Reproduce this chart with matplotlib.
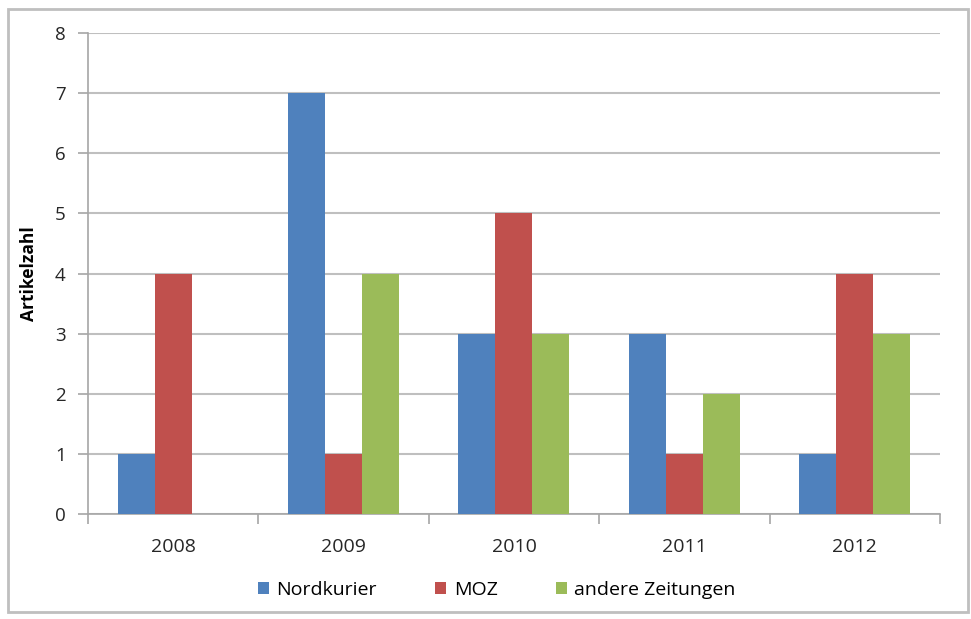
import numpy as np
import matplotlib
matplotlib.use('Agg')
import matplotlib.pyplot as plt
from matplotlib.patches import Rectangle

years = ['2008', '2009', '2010', '2011', '2012']
nordkurier = [1, 7, 3, 3, 1]
moz = [4, 1, 5, 1, 4]
andere = [0, 4, 3, 2, 3]

plt.rcParams['font.family'] = ['Open Sans', 'DejaVu Sans']

fig = plt.figure(figsize=(9.71, 6.19), dpi=100)
ax = fig.add_axes([0.0906, 0.1696, 0.8774, 0.7771])

x = np.arange(len(years))
w = 0.217
ax.bar(x - w, nordkurier, w, color='#4F81BD', label='Nordkurier', zorder=3)
ax.bar(x, moz, w, color='#C0504D', label='MOZ', zorder=3)
ax.bar(x + w, andere, w, color='#9BBB59', label='andere Zeitungen', zorder=3)

ax.set_xlim(-0.5, len(years) - 0.5)
ax.set_ylim(0, 8)
ax.set_yticks(range(0, 9))
ax.yaxis.grid(True, color='#bfbfbf', linewidth=1.5, zorder=0)
ax.set_xticks(x)
ax.set_xticklabels(years, fontsize=14, color='#262626')
ax.tick_params(axis='x', length=0, pad=17)
ax.set_xticks(np.arange(-0.5, len(years)), minor=True)
ax.tick_params(axis='x', which='minor', length=7, color='#a6a6a6', width=1.2)
ax.tick_params(axis='y', length=7, color='#a6a6a6', width=1.2, labelsize=13.5,
               labelcolor='#262626', pad=9)

for s in ['top', 'right']:
    ax.spines[s].set_visible(False)
for s in ['left', 'bottom']:
    ax.spines[s].set_color('#a6a6a6')
    ax.spines[s].set_linewidth(1.2)

ax.set_ylabel('Artikelzahl', fontsize=12.5, fontweight='bold', labelpad=12)

ax.legend(loc='center', bbox_to_anchor=(0.48, -0.158), ncol=3, frameon=False,
          fontsize=14, handlelength=0.55, handleheight=0.55, columnspacing=3.0,
          handletextpad=0.4)

fig.patches.append(Rectangle((8 / 971, 7 / 619), 960 / 971, 603 / 619,
                             transform=fig.transFigure, fill=False,
                             edgecolor='#bfbfbf', linewidth=2))

fig.savefig('out.png', dpi=100)
